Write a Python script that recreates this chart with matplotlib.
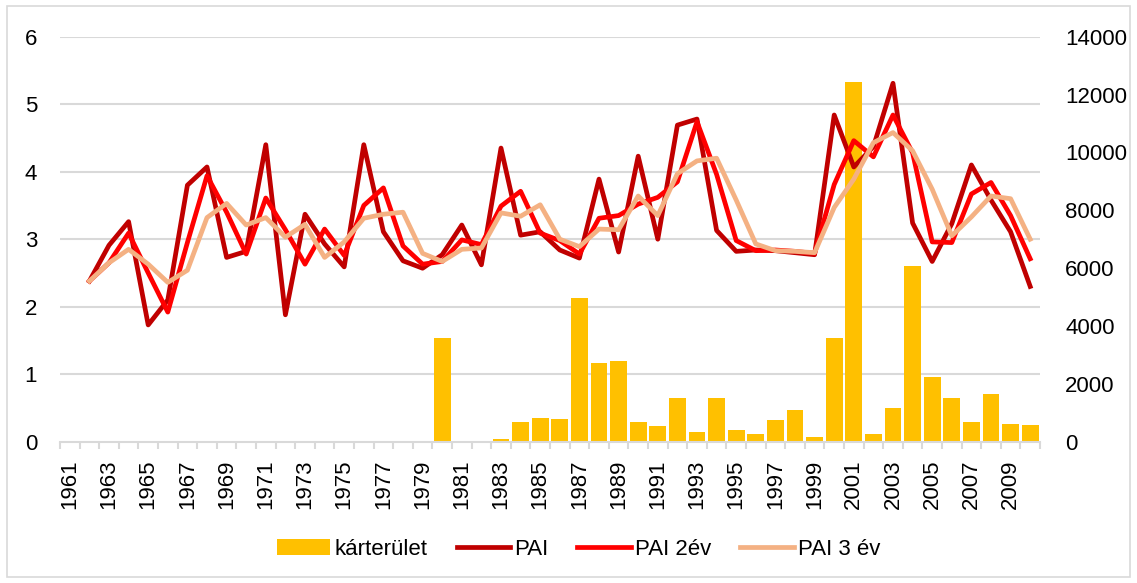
import matplotlib
matplotlib.use("Agg")
import matplotlib.pyplot as plt
import matplotlib.font_manager as fm
from matplotlib.patches import Rectangle
import numpy as np

# data
years = list(range(1961, 2011))
karterulet = [0, 0, 0, 0, 0, 0, 0, 0, 0, 0,
              0, 0, 0, 0, 0, 0, 0, 0, 0, 3600,
              0, 0, 80, 680, 820, 770, 4980, 2730, 2800, 690,
              540, 1520, 340, 1500, 390, 260, 750, 1100, 160, 3590,
              12450, 280, 1160, 6080, 2250, 1510, 680, 1660, 610, 570]
pai = [np.nan, 2.38, 2.91, 3.26, 1.73, 2.10, 3.80, 4.07, 2.73, 2.82,
       4.40, 1.88, 3.37, 2.93, 2.59, 4.40, 3.11, 2.68, 2.57, 2.77,
       3.21, 2.62, 4.35, 3.06, 3.11, 2.84, 2.72, 3.89, 2.81, 4.23,
       3.00, 4.69, 4.78, 3.13, 2.82, 2.84, 2.83, 2.80, 2.77, 4.84,
       4.07, 4.37, 5.31, 3.24, 2.67, 3.23, 4.10, 3.58, 3.11, 2.30]
pai_2ev = [np.nan, 2.38, 2.65, 3.09, 2.50, 1.92, 2.95, 3.94, 3.40, 2.78,
           3.61, 3.14, 2.63, 3.15, 2.76, 3.50, 3.76, 2.90, 2.63, 2.67,
           2.99, 2.92, 3.49, 3.71, 3.09, 2.98, 2.78, 3.31, 3.35, 3.52,
           3.62, 3.85, 4.74, 3.96, 2.98, 2.83, 2.84, 2.82, 2.79, 3.81,
           4.46, 4.22, 4.84, 4.28, 2.96, 2.95, 3.67, 3.84, 3.35, 2.71]
pai_3ev = [np.nan, 2.38, 2.65, 2.85, 2.63, 2.36, 2.54, 3.32, 3.53, 3.21,
           3.32, 3.03, 3.22, 2.73, 2.96, 3.31, 3.37, 3.40, 2.79, 2.67,
           2.85, 2.87, 3.39, 3.34, 3.51, 3.00, 2.89, 3.15, 3.14, 3.64,
           3.35, 3.97, 4.16, 4.20, 3.58, 2.93, 2.83, 2.82, 2.80, 3.47,
           3.89, 4.43, 4.58, 4.31, 3.74, 3.05, 3.33, 3.64, 3.60, 3.00]
left_ticks = [0, 1, 2, 3, 4, 5, 6]
right_ticks = [0, 2000, 4000, 6000, 8000, 10000, 12000, 14000]

installed = {f.name for f in fm.fontManager.ttflist}
fam = "Liberation Sans Narrow" if "Liberation Sans Narrow" in installed else "Liberation Sans"
plt.rcParams["font.family"] = [fam, "DejaVu Sans"]
fs = 18 if fam == "Liberation Sans Narrow" else 16

grid_c = "#d9d9d9"
fig = plt.figure(figsize=(11.37, 5.83), dpi=100)
fig.patches.append(Rectangle((7 / 1137, 6 / 583), 1123 / 1137, 571 / 583,
                             transform=fig.transFigure, fill=False,
                             edgecolor=grid_c, linewidth=1.2))

ax = fig.add_axes([60 / 1137, (583 - 441.7) / 583, 980 / 1137, 405 / 583])
ax2 = ax.twinx()
x = np.arange(len(years))

# bars on the right-hand scale
ax.set_ylim(0, 14000)
for v in left_ticks[1:]:
    ax.axhline(v * 14000 / 6, color=grid_c, linewidth=1.5, zorder=0)
bars = ax.bar(x, karterulet, width=0.86, color="#FFC000", zorder=2,
              label="kárterület")

ax.set_xlim(-0.5, len(years) - 0.5)
ax.set_xticks(x[::2])
ax.set_xticklabels([str(y) for y in years[::2]], rotation=90, fontsize=fs)
ax.set_xticks(np.arange(-0.5, len(years)), minor=True)
ax.tick_params(axis="x", which="major", length=0, pad=13)
ax.tick_params(axis="x", which="minor", length=5, width=1.5, color=grid_c)
for s in ["top", "left", "right"]:
    ax.spines[s].set_visible(False)
ax.spines["bottom"].set_color(grid_c)
ax.spines["bottom"].set_linewidth(1.5)

# lines on the left-hand scale
ax2.set_ylim(0, 6)
l1, = ax2.plot(x, pai, color="#C00000", linewidth=3.4, label="PAI")
l2, = ax2.plot(x, pai_2ev, color="#FF0000", linewidth=3.4, label="PAI 2év")
l3, = ax2.plot(x, pai_3ev, color="#F4B183", linewidth=3.4, label="PAI 3 év")
for s in ax2.spines.values():
    s.set_visible(False)

# tick sides: bar scale on the right, line scale on the left
ax.yaxis.tick_right()
ax.set_yticks(right_ticks)
ax.set_yticklabels([str(t) for t in right_ticks], fontsize=fs)
ax.tick_params(axis="y", length=0, pad=18)
ax2.yaxis.tick_left()
ax2.set_yticks(left_ticks)
ax2.set_yticklabels([str(t) for t in left_ticks], fontsize=fs)
ax2.tick_params(axis="y", length=0, pad=16.5)

fig.legend([bars, l1, l2, l3], ["kárterület", "PAI", "PAI 2év", "PAI 3 év"],
           loc="center", bbox_to_anchor=(0.509, 0.058), ncol=4, frameon=False,
           fontsize=fs, handlelength=2.4, handleheight=0.7,
           handletextpad=0.2, columnspacing=1.3)

fig.savefig("out.png", dpi=100)
